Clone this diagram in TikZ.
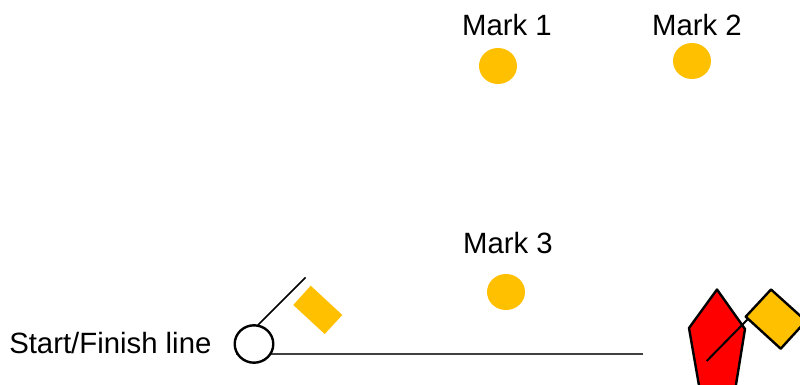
\documentclass[tikz,border=0pt]{standalone}
\usepackage{fontspec}
\setmainfont{Liberation Sans}
\definecolor{markorange}{RGB}{255,192,0}
\begin{document}
\begin{tikzpicture}[x=0.75pt,y=-0.75pt,
  lbl/.style={inner sep=0pt,font=\fontsize{22}{26}\selectfont,text=black},
  outl/.style={draw=black,line width=1.8pt,line join=round}]
\useasboundingbox (0,0) rectangle (800,385);
\clip (0,0) rectangle (800,385);
\path[fill=white] (0,0) rectangle (800,385);
% labels
\node[lbl] (m1) at (507,25) {Mark 1};
\node[lbl] (m2) at (697,25) {Mark 2};
\node[lbl] (m3) at (508,243) {Mark 3};
\node[lbl,anchor=west] (sf) at (9,343) {Start/Finish line};
% buoys
\fill[markorange] (498,66) ellipse [x radius=19,y radius=18];
\fill[markorange] (692,61) ellipse [x radius=19,y radius=18];
\fill[markorange] (506,292) ellipse [x radius=19,y radius=18];
% start line
\coordinate (la) at (236,354);
\coordinate (lb) at (643,354);
\draw[line width=1pt,draw=black!75] (la) -- (lb);
% pin end
\coordinate (fa) at (258,325);
\coordinate (fb) at (305.5,277.5);
\draw[line width=1.2pt] (fa) -- (fb);
\fill[markorange] (310.7,285.7) -- (342.3,315) -- (324.7,334) -- (293.3,305) -- cycle;
\draw[outl,fill=white] (254,344) ellipse [x radius=19.3,y radius=18.7];
% committee boat
\draw[outl,fill=red] (717,289.5) -- (745,329) -- (733.5,400) -- (701.5,400) -- (689,328) -- cycle;
\draw[outl,fill=markorange] (771,289.5) -- (806,321) -- (780.7,348.7) -- (745.7,316.7) -- cycle;
\coordinate (ga) at (706.7,361);
\coordinate (gb) at (748,319);
\draw[line width=1.5pt] (ga) -- (gb);
\end{tikzpicture}
\end{document}
